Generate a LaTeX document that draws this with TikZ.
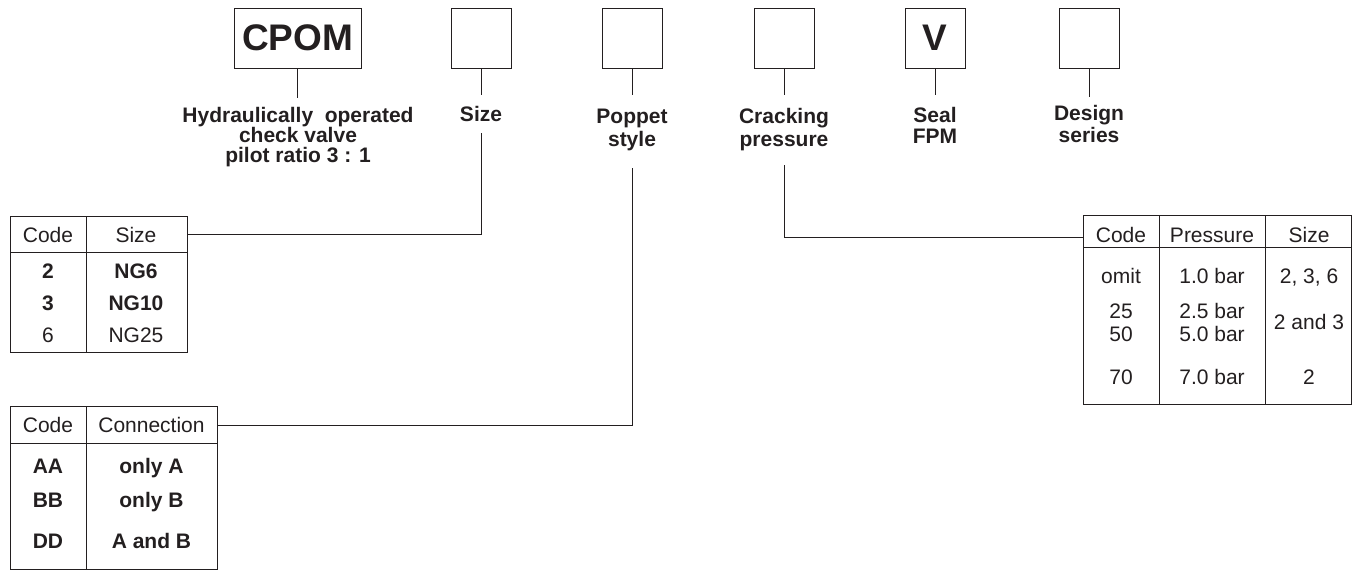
\documentclass[tikz,border=0pt]{standalone}
\usepackage{fontspec}
\setmainfont{Liberation Sans}
\definecolor{ink}{HTML}{231F20}
\begin{document}
\begin{tikzpicture}[x=1pt,y=-1pt, line width=1pt, draw=ink, text=ink,
  codebox/.style={draw, minimum width=60, minimum height=60, inner sep=0pt},
  lbl/.style={font=\bfseries\fontsize{21}{24}\selectfont, inner sep=0pt, anchor=base},
  cell/.style={font=\fontsize{21}{24}\selectfont, inner sep=0pt, anchor=base},
  bcell/.style={font=\bfseries\fontsize{21}{24}\selectfont, inner sep=0pt, anchor=base},
  tab/.style={draw, inner sep=0pt, anchor=north west},
  conn/.style={draw, line width=1pt}]
\useasboundingbox (0,0) rectangle (1352,571);

% code boxes
\node[codebox, minimum width=127, font=\bfseries\fontsize{37}{37}\selectfont] (cpom) at (297.5,38) {CPOM};
\node[codebox] (bsize) at (481,38) {};
\node[codebox] (bpop) at (632,38) {};
\node[codebox] (bcrack) at (784,38) {};
\node[codebox, font=\bfseries\fontsize{37}{37}\selectfont] (bseal) at (935,38) {V};
\node[codebox] (bdes) at (1089,38) {};

% labels
\node[lbl] (lcpomA) at (298,122) {Hydraulically\hspace{0.556em}operated};
\node[lbl] (lcpomB) at (298,142) {check valve};
\node[lbl] (lcpomC) at (298,162) {pilot ratio 3 : 1};
\node[lbl] (lsize) at (481,121) {Size};
\node[lbl] (lpopA) at (632,123) {Poppet};
\node[lbl] (lpopB) at (632,146) {style};
\node[lbl] (lcrA) at (784,123) {Cracking};
\node[lbl] (lcrB) at (784,146) {pressure};
\node[lbl] (lsealA) at (935,122) {Seal};
\node[lbl] (lsealB) at (935,143) {FPM};
\node[lbl] (ldesA) at (1089,120) {Design};
\node[lbl] (ldesB) at (1089,142) {series};

% short ticks below boxes
\coordinate (tcpom) at (297.5,98);
\coordinate (tsize) at (481,95);
\coordinate (tpop) at (632,95);
\coordinate (tcrack) at (784,95);
\coordinate (tseal) at (935,95);
\coordinate (tdes) at (1089,97);
\draw[conn] (cpom.south) -- (tcpom);
\draw[conn] (bsize.south) -- (tsize);
\draw[conn] (bpop.south) -- (tpop);
\draw[conn] (bcrack.south) -- (tcrack);
\draw[conn] (bseal.south) -- (tseal);
\draw[conn] (bdes.south) -- (tdes);

% ---------- Size table ----------
\node[tab, minimum width=177, minimum height=136] (tsz) at (10,216) {};
\draw (10,252) -- (187,252);
\draw (86,216) -- (86,352);
\node[cell] (tszh1) at (48,242) {Code};
\node[cell] (tszh2) at (136,242) {Size};
\node[bcell] (tsz11) at (48,278) {2};
\node[bcell] (tsz12) at (136,278) {NG6};
\node[bcell] (tsz21) at (48,310) {3};
\node[bcell] (tsz22) at (136,310) {NG10};
\node[cell] (tsz31) at (48,342) {6};
\node[cell] (tsz32) at (136,342) {NG25};

% ---------- Connection table ----------
\node[tab, minimum width=207, minimum height=163] (tcn) at (10,406) {};
\draw (10,443) -- (217,443);
\draw (86,406) -- (86,569);
\node[cell] (tcnh1) at (48,432) {Code};
\node[cell] (tcnh2) at (151.5,432) {Connection};
\node[bcell] (tcn11) at (48,473) {AA};
\node[bcell] (tcn12) at (151.5,473) {only A};
\node[bcell] (tcn21) at (48,507) {BB};
\node[bcell] (tcn22) at (151.5,507) {only B};
\node[bcell] (tcn31) at (48,548) {DD};
\node[bcell] (tcn32) at (151.5,548) {A and B};

% ---------- Pressure table ----------
\node[tab, minimum width=268, minimum height=189] (tpr) at (1083,215) {};
\draw (1083,247) -- (1351,247);
\draw (1159,215) -- (1159,404);
\draw (1265,215) -- (1265,404);
\node[cell] (tprh1) at (1121,242) {Code};
\node[cell] (tprh2) at (1212,242) {Pressure};
\node[cell] (tprh3) at (1309,242) {Size};
\node[cell] (tpr11) at (1121,283) {omit};
\node[cell] (tpr12) at (1212,283) {1.0 bar};
\node[cell] (tpr13) at (1309,283) {2, 3, 6};
\node[cell] (tpr21) at (1121,318) {25};
\node[cell] (tpr22) at (1212,318) {2.5 bar};
\node[cell] (tpr31) at (1121,341) {50};
\node[cell] (tpr32) at (1212,341) {5.0 bar};
\node[cell] (tpr23) at (1309,329) {2 and 3};
\node[cell] (tpr41) at (1121,384) {70};
\node[cell] (tpr42) at (1212,384) {7.0 bar};
\node[cell] (tpr43) at (1309,384) {2};

% ---------- connectors to tables ----------
\coordinate (csz) at (481,133);
\coordinate (cpop) at (632,168);
\coordinate (ccr) at (784,165);
\coordinate (eszt) at (187,234);
\coordinate (ecnt) at (217,425);
\coordinate (eprt) at (1083,237);
\draw[conn] (csz) |- (eszt);
\draw[conn] (cpop) |- (ecnt);
\draw[conn] (ccr) |- (eprt);
\end{tikzpicture}
\end{document}
